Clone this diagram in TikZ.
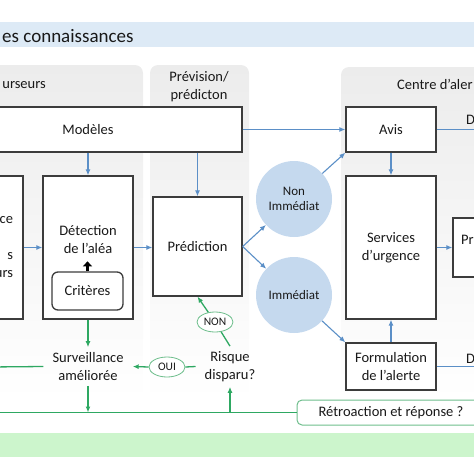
\documentclass[tikz,border=0pt]{standalone}
\usepackage{fontspec}
\setmainfont{Carlito}
\usetikzlibrary{arrows.meta,shapes.geometric}

\definecolor{boxline}{RGB}{60,60,60}
\definecolor{arrowblue}{RGB}{91,143,199}
\definecolor{circleblue}{RGB}{197,217,238}
\definecolor{arrowgreen}{RGB}{46,168,98}
\definecolor{softgreen}{RGB}{110,190,140}
\definecolor{bandgreen}{RGB}{204,245,204}
\definecolor{titleblue}{RGB}{221,234,246}
\definecolor{panelgray}{RGB}{236,236,236}

\begin{document}
\begin{tikzpicture}[x=1pt,y=-1pt,font=\fontsize{14.5}{18}\selectfont,text=black!90,
  box/.style={draw=boxline,line width=1.3pt,fill=white,align=center,inner sep=0pt},
  panel/.style={rounded corners=8pt,top color=panelgray,bottom color=white},
  bluearrow/.style={draw=arrowblue,line width=1.1pt,-{Latex[length=6pt,width=5pt]}},
  greenarrow/.style={draw=arrowgreen,line width=1.3pt,-{Latex[length=6pt,width=5pt]}},
  greenline/.style={draw=arrowgreen,line width=1.3pt},
  choice/.style={ellipse,draw=softgreen,line width=0.8pt,fill=white,inner sep=0pt,
    minimum width=36pt,minimum height=20pt,font=\fontsize{11.5}{13}\selectfont},
  delay/.style={circle,fill=circleblue,inner sep=0pt,minimum size=76pt,align=center,
    font=\fontsize{13}{15}\selectfont},
  plain/.style={align=center,inner xsep=9pt,inner ysep=5pt}]
\useasboundingbox (0,0) rectangle (474,474);
\clip (0,0) rectangle (474,474);

\fill[titleblue] (0,22) rectangle (474,47);
\fill[bandgreen] (0,433) rectangle (474,457);
\node[anchor=base west,inner sep=0pt,font=\fontsize{19}{22}\selectfont] (titre) at (2,42) {es connaissances};

% panneaux
\shade[panel] (-20,65) rectangle (143,400);
\shade[panel] (150,65) rectangle (249,400);
\shade[panel] (341,67) rectangle (520,400);
\node[anchor=base east,inner sep=0pt] (precurseurs) at (46,88) {urseurs};
\node[align=center,inner sep=0pt] (prevision) at (199,87) {Prévision/\\prédicton};
\node[anchor=base west,inner sep=0pt] (centre) at (397,89) {Centre d’aler};

% boites
\node[box,minimum width=308pt,minimum height=45pt] (modeles) at (88,129.5) {Modèles};
\node[box,minimum height=143pt,text width=83pt,inner xsep=10pt,align=right] (surv) at (-28.5,247.5) {ce\\[18pt]s\\urs};
\node[box,minimum width=90pt,minimum height=143pt] (detection) at (88,247.5) {};
\node[align=center] (detecttxt) at (88,240) {Détection\\de l’aléa};
\node[box,rounded corners=6pt,minimum width=71pt,minimum height=38pt] (criteres) at (87.5,291) {Critères};
\node[box,minimum width=89pt,minimum height=99pt] (prediction) at (197.5,246.5) {Prédiction};
\node[delay] (nonimm) at (294,199) {Non\\Immédiat};
\node[delay] (imm) at (294,295) {Immédiat};
\node[box,minimum width=90pt,minimum height=45pt] (avis) at (391,129.5) {Avis};
\node[box,minimum width=90pt,minimum height=143pt] (services) at (391,247.5) {Services\\d’urgence};
\node[box,minimum width=88pt,minimum height=59pt] (pr) at (497,247.5) {};
\node[anchor=west,inner sep=0pt] (prtxt) at (461,240) {Pr};
\node[box,minimum width=90pt,minimum height=47pt] (formulation) at (391,366.5) {Formulation\\de l’alerte};
\node[anchor=west,inner sep=0pt] (dhaut) at (466,120) {D};
\node[anchor=west,inner sep=0pt] (dbas) at (466,359) {D};

% boucle de surveillance
\node[plain] (amelioree) at (88,366.5) {Surveillance\\améliorée};
\node[plain] (risque) at (230,366.5) {Risque\\disparu?};
\node[choice] (oui) at (167,367) {OUI};
\node[choice] (non) at (215,322) {NON};
\node[box,draw=softgreen,line width=1pt,rounded corners=5pt,minimum width=188pt,minimum height=25pt] (retro) at (391,412.5) {Rétroaction et réponse ?};
\coordinate (fbleft) at (-10,412.5);
\coordinate (survleft) at (-10,367);
\coordinate (avisright) at (500,130);
\coordinate (formright) at (500,368);

\draw[bluearrow] (modeles.east) -- (avis.west);
\draw[bluearrow] (detection.north |- modeles.south) -- (detection.north);
\draw[bluearrow] (prediction.north |- modeles.south) -- (prediction.north);
\draw[bluearrow] (surv.east) -- (detection.west);
\draw[bluearrow] (detection.east) -- (detection.east -| prediction.west);
\draw[bluearrow] (prediction.east) -- (nonimm);
\draw[bluearrow] (prediction.east) -- (imm);
\draw[bluearrow] (nonimm) -- (avis.south west);
\draw[bluearrow] (imm) -- (formulation.north west);
\draw[bluearrow] (avis.south) -- (services.north);
\draw[bluearrow] (formulation.north) -- (services.south);
\draw[bluearrow] (services.east) -- (pr.west);
\draw[arrowblue,line width=1.1pt] (avis.east) -- (avis.east -| avisright);
\draw[arrowblue,line width=1.1pt] (formulation.east) -- (formulation.east -| formright);
\draw[line width=2.5pt,-{Triangle[length=5pt,width=9pt]}] (criteres.north) -- ++(0,-10);

\draw[greenarrow] (detection.south) -- (amelioree.north);
\draw[greenline] (survleft) -- (amelioree.west);
\draw[greenline] (risque.west) -- (oui.east);
\draw[greenarrow] (oui.west) -- (amelioree.east);
\draw[greenline] (risque.north) -- (non);
\draw[greenarrow] (non) -- (prediction.south);
\draw[greenarrow] (amelioree.south) -- (amelioree.south |- retro.west);
\draw[greenline] (fbleft) -- (retro.west);
\draw[greenarrow] (risque.south |- retro.west) -- (risque.south);
\end{tikzpicture}
\end{document}
